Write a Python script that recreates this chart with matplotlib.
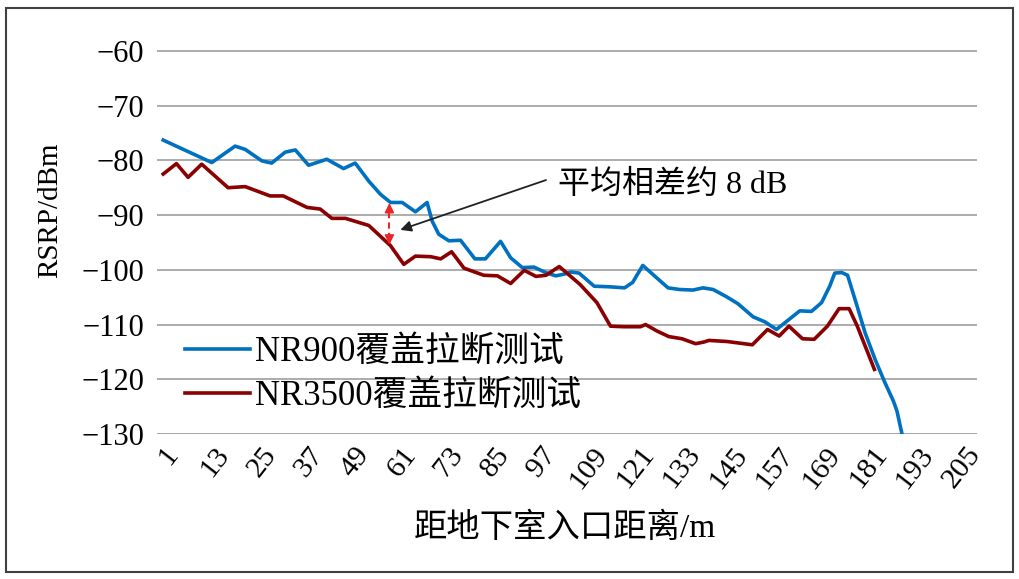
import matplotlib
matplotlib.use("Agg")
import matplotlib.pyplot as plt
from matplotlib.transforms import offset_copy
from matplotlib.patches import Rectangle

plt.rcParams['font.family'] = ['Liberation Serif', 'Noto Sans CJK SC']
plt.rcParams['axes.unicode_minus'] = True

# ---- data ----
nr900_dist = [1.1, 13.6, 19.6, 22.2, 26.5, 29.0, 32.5, 35.1, 38.5, 43.2, 47.5, 50.5,
              54.0, 57.0, 59.6, 62.6, 66.0, 69.0, 70.3, 72.0, 74.6, 77.6, 81.3, 84.0,
              87.9, 90.5, 93.5, 96.5, 99.5, 102.1, 104.2, 106.0, 108.1, 112.0, 115.9,
              119.8, 121.9, 124.5, 127.5, 131.0, 134.0, 137.4, 140.0, 142.6, 146.0,
              149.0, 152.9, 155.9, 158.9, 161.9, 164.9, 167.9, 170.5, 172.6, 173.9,
              175.7, 177.2, 179.5, 181.7, 184.3, 186.8, 189.0, 189.9, 191.2]
nr900_rsrp = [-76.3, -80.4, -77.4, -78.0, -80.1, -80.5, -78.5, -78.1, -80.9, -79.8,
              -81.5, -80.5, -83.8, -86.2, -87.7, -87.7, -89.4, -87.7, -91.1, -93.5,
              -94.7, -94.6, -98.0, -98.0, -94.8, -97.8, -99.6, -99.5, -100.5, -101.1,
              -100.8, -100.4, -100.6, -103.0, -103.1, -103.3, -102.3, -99.2, -101.1,
              -103.3, -103.6, -103.7, -103.3, -103.6, -104.9, -106.2, -108.6, -109.5,
              -110.9, -109.2, -107.5, -107.6, -106.0, -103.0, -100.6, -100.5, -101.0,
              -106.3, -111.5, -116.4, -120.6, -124.0, -125.8, -130.0]

nr3500_dist = [1.1, 4.5, 7.5, 11.0, 17.8, 22.2, 28.6, 32.0, 38.1, 41.5, 44.5, 48.0,
               54.0, 59.6, 63.0, 66.0, 69.9, 72.5, 75.3, 78.5, 83.6, 87.1, 90.5, 94.0,
               97.0, 99.6, 103.0, 108.4, 112.7, 116.2, 119.6, 123.9, 125.2, 128.2,
               131.2, 134.6, 138.1, 140.2, 141.5, 146.2, 152.7, 156.6, 159.6, 162.1,
               165.6, 168.6, 172.0, 175.0, 177.6, 179.7, 184.1]
nr3500_rsrp = [-82.5, -80.6, -83.1, -80.7, -85.0, -84.8, -86.5, -86.5, -88.6, -88.9,
               -90.6, -90.6, -91.9, -95.6, -99.0, -97.5, -97.6, -98.0, -96.7, -99.7,
               -101.0, -101.1, -102.5, -100.1, -101.2, -101.0, -99.4, -102.7, -106.0,
               -110.3, -110.4, -110.4, -110.0, -111.2, -112.2, -112.6, -113.5, -113.2,
               -112.9, -113.1, -113.7, -110.9, -112.1, -110.3, -112.6, -112.7, -110.3,
               -107.1, -107.1, -110.3, -118.2]

series_labels = ['NR900覆盖拉断测试', 'NR3500覆盖拉断测试']
x_ticks = list(range(1, 206, 12))
x_tick_labels = [str(t) for t in x_ticks]
y_ticks = [-60, -70, -80, -90, -100, -110, -120, -130]
annotation_text = '平均相差约 8 dB'
x_label = '距地下室入口距离/m'
y_label = 'RSRP/dBm'

# ---- figure ----
W, H = 1020, 579
fig = plt.figure(figsize=(W / 100, H / 100), dpi=100)
ax = fig.add_axes([157 / W, 1 - 434 / H, (977 - 157) / W, (434 - 29) / H])

blue = '#0070C0'
red = '#8B0000'
ax.plot(nr900_dist, nr900_rsrp, color=blue, lw=2.6, label=series_labels[0],
        solid_joinstyle='round', zorder=3)
ax.plot(nr3500_dist, nr3500_rsrp, color=red, lw=2.6, label=series_labels[1],
        solid_joinstyle='round', zorder=3)

ax.set_xlim(-0.5, 210.5)
ax.set_ylim(-130, -56)
ax.set_yticks(y_ticks)
ax.yaxis.grid(True, color='#a6a6a6', lw=1.3)
ax.set_axisbelow(True)
for s in ax.spines.values():
    s.set_visible(False)
ax.tick_params(axis='y', length=0, pad=9, labelsize=22)
ax.tick_params(axis='x', length=0)
ax.set_xticks(x_ticks)
ax.set_xticklabels([])
ax.axhline(-130, color='#a6a6a6', lw=1.3, zorder=1)

# rotated x tick labels
trans = offset_copy(ax.get_xaxis_transform(), fig=fig, x=6, y=-8, units='dots')
for t, lab in zip(x_ticks, x_tick_labels):
    ax.text(t, 0, lab, rotation=52, ha='center', va='top', fontsize=21.5,
            transform=trans)

fig.text(565 / W, 1 - 528 / H, x_label, ha='center', va='center', fontsize=24)
fig.text(50 / W, 1 - 210 / H, y_label, ha='center', va='center', fontsize=21,
         rotation=90)

# legend
leg = ax.legend(loc='upper left', bbox_to_anchor=(0.034, 0.242), frameon=False,
                fontsize=25, handlelength=1.87, handletextpad=0.15,
                borderpad=0, borderaxespad=0, labelspacing=0.31)

# annotation
ax.text(102.6, -84.4, annotation_text, ha='left', va='center', fontsize=23)
ax.annotate('', xy=(62.1, -92.7), xytext=(99.6, -83.6),
            arrowprops=dict(arrowstyle='-|>', color='#222222', lw=1.3,
                            mutation_scale=16, shrinkA=0, shrinkB=0))
# red dashed double arrow
arr_red = '#E8262A'
ax.plot([59.3, 59.3], [-89.5, -93.7], color=arr_red, lw=1.5, ls=(0, (3, 2)), zorder=4)
ax.annotate('', xy=(59.3, -87.8), xytext=(59.3, -89.6),
            arrowprops=dict(arrowstyle='-|>', color=arr_red, lw=1.2,
                            mutation_scale=14, shrinkA=0, shrinkB=0), zorder=4)
ax.annotate('', xy=(59.3, -95.4), xytext=(59.3, -93.6),
            arrowprops=dict(arrowstyle='-|>', color=arr_red, lw=1.2,
                            mutation_scale=14, shrinkA=0, shrinkB=0), zorder=4)

# outer frame
fig.patches.append(Rectangle((6 / W, 1 - 572 / H), (1013 - 6) / W, (572 - 8) / H,
                             transform=fig.transFigure, fill=False,
                             edgecolor='#404040', lw=1.5))

fig.savefig('out.png', dpi=100)
